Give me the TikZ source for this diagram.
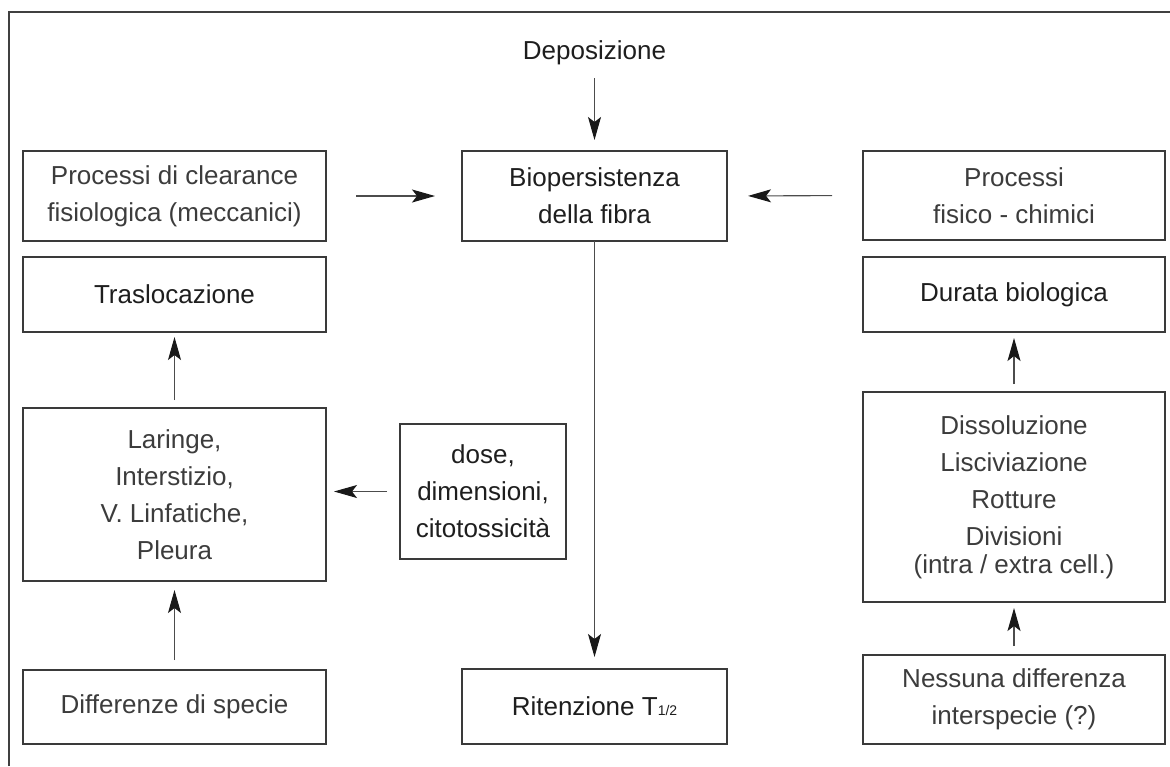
\documentclass[tikz,border=0pt]{standalone}
\usepackage{fontspec}
\setmainfont{Liberation Sans}
\usetikzlibrary{arrows.meta}
\definecolor{darktext}{HTML}{1E1E1E}
\definecolor{lighttext}{HTML}{3C3C3C}
\definecolor{boxline}{HTML}{3A3A3A}
\begin{document}
\begin{tikzpicture}[x=0.5pt,y=-0.5pt,
  box/.style={draw=boxline,line width=0.7pt,rectangle,inner sep=0pt,outer sep=0pt,
    align=center,font=\fontsize{13pt}{18.5pt}\selectfont},
  dark/.style={text=darktext},
  light/.style={text=lighttext},
  arr/.style={draw=black!70,line width=0.55pt,
    -{Stealth[length=11.5pt,width=6.5pt,inset=2.5pt,color=black!90]}},
  frame/.style={draw=black!75,line width=1pt}
]
\useasboundingbox (0,0) rectangle (1170,766);
% outer frame (only top and left edges are visible)
\draw[frame] (9,766) -- (9,12) -- (1170,12);

% left column
\node[box,light,minimum width=151.5pt,minimum height=45pt] (clear) at (174.5,196)
  {Processi di clearance\\fisiologica (meccanici)};
\node[box,dark,minimum width=151.5pt,minimum height=37.5pt] (trasl) at (174.5,294.5)
  {Traslocazione};
\node[box,light,minimum width=151.5pt,minimum height=86.5pt] (lar) at (174.5,494.5)
  {Laringe,\\Interstizio,\\V. Linfatiche,\\Pleura};
\node[box,light,minimum width=151.5pt,minimum height=37pt] (diff) at (174.5,707)
  {Differenze di specie};

% centre column
\node[dark,inner sep=0pt,outer sep=0pt,anchor=base,font=\fontsize{13pt}{18.5pt}\selectfont] (dep) at (594.5,59)
  {Deposizione};
\node[box,dark,minimum width=132.5pt,minimum height=45pt] (bio) at (594.5,196)
  {Biopersistenza\\della fibra};
\node[box,dark,minimum width=83pt,minimum height=67.5pt] (dose) at (483,491.5)
  {dose,\\dimensioni,\\citotossicità};
\node[box,dark,minimum width=132.5pt,minimum height=37.5pt] (rit) at (594.5,706.5)
  {Ritenzione T{\fontsize{7pt}{8pt}\selectfont 1/2}};

% right column
\node[box,light,minimum width=151pt,minimum height=44.5pt] (fis) at (1014,195.5)
  {Processi\\fisico - chimici};
\node[box,dark,minimum width=151pt,minimum height=37.5pt] (dur) at (1014,294.5)
  {Durata biologica};
\node[box,light,minimum width=151pt,minimum height=105pt] (diss) at (1014,497)
  {Dissoluzione\\Lisciviazione\\Rotture\\Divisioni\\[-4.5pt](intra / extra cell.)};
\node[box,light,minimum width=151pt,minimum height=44.5pt] (ness) at (1014,699.5)
  {Nessuna differenza\\interspecie (?)};

% connectors
\draw[arr,shorten <=7pt,shorten >=5.5pt] (dep.south) -- (bio.north);
\draw[arr,shorten <=15pt,shorten >=13.5pt] (clear.east) -- (bio.west);
\draw[arr,shorten <=15.5pt,shorten >=10.5pt] (fis.west) -- (bio.east);
\draw[arr,shorten >=6pt] (bio.south) -- (rit.north);
\draw[arr,shorten <=6.5pt,shorten >=4pt] (dose.west) -- (dose.west-|lar.east);
\draw[arr,shorten <=4pt,shorten >=2.5pt] (lar.north) -- (trasl.south);
\draw[arr,shorten <=5pt,shorten >=4.5pt] (diff.north) -- (lar.south);
\draw[arr,shorten <=4pt,shorten >=3pt] (diss.north) -- (dur.south);
\draw[arr,shorten <=4.5pt,shorten >=3pt] (ness.north) -- (diss.south);
\end{tikzpicture}
\end{document}
